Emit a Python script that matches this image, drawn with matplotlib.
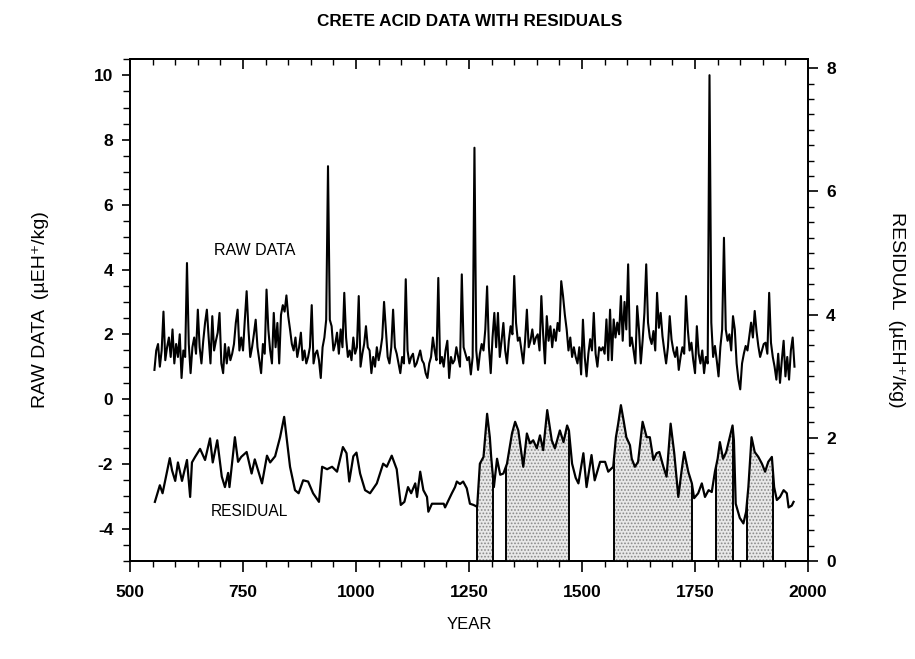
import numpy as np
import matplotlib
matplotlib.use("Agg")
import matplotlib.pyplot as plt
from matplotlib.ticker import MultipleLocator

plt.rcParams['font.family'] = ['Liberation Sans', 'DejaVu Sans']
plt.rcParams['hatch.linewidth'] = 0.8

# ---------------- data ----------------
raw_start = 554
raw_step = 4
raw_values = [
    0.9, 1.5, 1.7, 1.0, 1.5, 2.7, 1.2, 1.6, 1.9, 1.3,          # 554-590
    2.15, 1.1, 1.7, 1.3, 2.0, 0.65, 1.5, 1.3, 4.2, 1.7,        # 594-630
    0.8, 1.6, 1.9, 1.4, 2.76, 1.6, 1.1, 1.8, 2.35, 2.76,       # 634-670
    1.9, 1.1, 2.56, 1.5, 1.8, 2.05, 2.66, 1.1, 0.8, 1.7,       # 674-710
    1.1, 1.6, 1.2, 1.4, 1.7, 2.35, 2.76, 1.5, 1.9, 1.5,        # 714-750
    2.45, 3.33, 2.15, 1.3, 1.6, 2.0, 2.45, 1.6, 1.2, 0.8,      # 754-790
    1.7, 1.4, 3.38, 2.15, 1.5, 1.1, 2.66, 1.6, 2.35, 1.1,      # 794-830
    2.6, 2.9, 2.7, 3.2, 2.56, 2.15, 1.7, 1.5, 1.9, 1.3,        # 834-870
    1.6, 2.05, 1.2, 1.5, 1.1, 1.3, 1.6, 2.9, 1.1, 1.4,         # 874-910
    1.5, 1.2, 0.65, 1.6, 1.9, 2.45, 7.19, 2.45, 2.25, 1.5,     # 914-950
    1.7, 2.05, 1.4, 2.15, 1.6, 3.28, 1.9, 1.3, 1.5, 1.2,       # 954-990
    1.9, 1.4, 1.6, 3.18, 1.0, 1.4, 1.7, 2.25, 1.6, 1.5,        # 994-1030
    0.8, 1.3, 1.0, 1.6, 1.2, 1.5, 1.9, 3.0, 2.15, 1.3,         # 1034-1070
    1.1, 1.6, 2.76, 1.6, 1.4, 1.1, 0.8, 1.3, 1.1, 3.7,         # 1074-1110
    1.5, 1.1, 1.3, 1.4, 1.0, 1.1, 1.3, 1.5, 1.2, 1.1,          # 1114-1150
    0.8, 0.65, 1.1, 1.3, 1.9, 1.5, 1.2, 3.74, 1.1, 1.3,        # 1154-1190
    1.0, 1.5, 1.8, 0.65, 1.3, 1.1, 1.2, 1.6, 1.3, 1.0,         # 1194-1230
    3.85, 1.6, 1.4, 1.2, 1.3, 0.76, 1.3, 7.76, 1.5, 0.9,       # 1234-1270
    1.4, 1.7, 1.5, 2.15, 3.48, 1.6, 0.8, 1.9, 2.66, 1.6,       # 1274-1310
    2.66, 1.3, 1.8, 2.35, 1.5, 1.1, 1.8, 2.25, 2.0, 3.8,       # 1314-1350
    2.35, 1.8, 1.9, 1.5, 1.1, 1.8, 2.76, 1.6, 1.8, 2.15,       # 1354-1390
    1.7, 1.9, 2.0, 1.5, 3.18, 2.0, 1.1, 2.56, 1.8, 2.25,       # 1394-1430
    1.6, 2.15, 1.8, 2.35, 2.1, 3.64, 3.18, 2.6, 2.15, 1.5,     # 1434-1470
    1.9, 1.3, 1.6, 1.3, 1.1, 1.6, 0.76, 2.45, 1.3, 0.7,        # 1474-1510
    1.4, 1.85, 1.5, 2.66, 1.4, 1.0, 1.6, 1.5, 1.6, 1.4,        # 1514-1550
    2.46, 1.2, 2.76, 1.2, 2.46, 1.9, 2.36, 2.0, 3.18, 1.8,     # 1554-1590
    3.0, 2.15, 4.16, 1.64, 1.9, 1.5, 1.1, 2.87, 2.15, 1.1,     # 1594-1630
    1.8, 2.66, 4.16, 2.36, 1.9, 1.7, 2.1, 1.5, 3.28, 2.2,      # 1634-1670
    2.66, 1.94, 1.5, 1.1, 1.6, 2.56, 1.84, 1.5, 1.3, 1.6,      # 1674-1710
    0.9, 1.3, 1.6, 1.4, 3.18, 2.15, 1.5, 1.74, 1.2, 0.8,       # 1714-1750
    2.25, 1.4, 1.1, 1.5, 0.8, 1.3, 1.1, 10.0, 2.36, 1.3,       # 1754-1790
    1.64, 1.2, 0.7, 1.6, 2.15, 4.98, 2.15, 1.8, 2.0, 1.5,      # 1794-1830
    2.56, 2.15, 1.1, 0.6, 0.3, 1.1, 1.4, 1.64, 1.5, 1.94,      # 1834-1870
    2.36, 1.9, 2.72, 2.1, 1.64, 1.3, 1.5, 1.7, 1.74, 1.4,      # 1874-1910
    3.28, 1.74, 1.3, 1.0, 0.6, 1.4, 0.5, 1.2, 1.8, 0.7,        # 1914-1950
    1.3, 0.6, 1.5, 1.9, 1.0,                                   # 1954-1970
]

res_years = [
    555, 566, 572, 588, 593, 600, 606, 615, 626, 633, 637, 644, 655, 666, 677,
    683, 693, 703, 710, 717, 720, 732, 739, 746, 758, 769, 776, 792, 803, 810,
    821, 832, 841, 847, 854, 865, 873, 883, 894, 905, 918, 925, 936, 947, 958,
    971, 979, 985, 994, 1001, 1009, 1020, 1031, 1046, 1060, 1068, 1079, 1090,
    1099, 1107, 1115, 1122, 1131, 1135, 1142, 1149, 1157, 1160, 1168, 1179,
    1187, 1194, 1197, 1212, 1219, 1223, 1230, 1237, 1245, 1252, 1260, 1268,
    1274, 1282, 1290, 1296, 1299, 1305, 1312, 1319, 1326, 1334, 1345, 1352,
    1359, 1370, 1378, 1385, 1392, 1400, 1407, 1414, 1423, 1433, 1440, 1451,
    1459, 1467, 1471, 1478, 1486, 1492, 1503, 1510, 1521, 1528, 1540, 1551,
    1558, 1569, 1575, 1580, 1586, 1592, 1598, 1606, 1610, 1617, 1624, 1634,
    1643, 1650, 1658, 1665, 1671, 1680, 1687, 1696, 1704, 1713, 1720, 1726,
    1735, 1743, 1748, 1757, 1765, 1772, 1780, 1787, 1794, 1800, 1805, 1812,
    1819, 1833, 1836, 1840, 1849, 1857, 1863, 1868, 1875, 1882, 1890, 1898,
    1905, 1912, 1920, 1925, 1931, 1938, 1946, 1953, 1957, 1964, 1968,
]
res_values = [
    0.96, 1.23, 1.10, 1.67, 1.47, 1.30, 1.60, 1.30, 1.64, 1.04, 1.60, 1.69, 1.82, 1.64, 1.99,
    1.60, 1.96, 1.37, 1.20, 1.43, 1.20, 2.01, 1.61, 1.69, 1.77, 1.42, 1.65, 1.26, 1.71, 1.60,
    1.70, 2.01, 2.34, 1.96, 1.53, 1.15, 1.10, 1.31, 1.29, 1.10, 0.96, 1.53, 1.49, 1.53, 1.45,
    1.85, 1.75, 1.29, 1.70, 1.76, 1.42, 1.15, 1.10, 1.26, 1.58, 1.53, 1.71, 1.49,
    0.91, 0.96, 1.20, 1.10, 1.26, 1.04, 1.45, 1.15, 1.04, 0.80, 0.93, 0.93,
    0.93, 0.93, 0.87, 1.10, 1.20, 1.29, 1.25, 1.29, 1.18, 0.93, 0.91, 0.88,
    1.58, 1.69, 2.39, 2.01, 1.69, 1.20, 1.66, 1.40, 1.42, 1.58, 2.07, 2.26,
    2.12, 1.53, 2.07, 1.91, 1.96, 1.83, 2.04, 1.80, 2.45, 1.96, 1.83, 2.12,
    1.93, 2.20, 2.12, 1.58, 1.35, 1.26, 1.75, 1.20, 1.72, 1.31, 1.61, 1.61,
    1.45, 1.53, 2.01, 2.23, 2.53, 2.28, 2.01, 1.88, 1.66, 1.53, 1.61, 2.26,
    2.01, 2.01, 1.64, 1.75, 1.77, 1.53, 1.37, 2.23, 1.75, 1.04, 1.45, 1.77,
    1.45, 1.26, 1.02, 1.10, 1.26, 1.04, 1.15, 1.12, 1.45, 1.66, 1.93, 1.66,
    1.77, 2.20, 1.96, 0.93, 0.70, 0.61, 0.80, 1.20, 2.01, 1.77, 1.69, 1.58,
    1.45, 1.61, 1.69, 1.20, 0.99, 1.04, 1.15, 1.10, 0.87, 0.90, 0.96,
]

# shaded periods (start year, end year)
shade_start = [1268, 1332, 1571, 1796, 1865]
shade_end = [1303, 1471, 1743, 1834, 1923]

x_ticks = [500, 750, 1000, 1250, 1500, 1750, 2000]
left_ticks = [-4, -2, 0, 2, 4, 6, 8, 10]
right_ticks = [0, 2, 4, 6, 8]

# ---------------- figure ----------------
raw_years = raw_start + raw_step * np.arange(len(raw_values))
res_years = np.array(res_years, dtype=float)
res_values = np.array(res_values, dtype=float)

fig = plt.figure(figsize=(9.15, 6.59), dpi=100)
ax = fig.add_axes([0.1421, 0.1487, 0.7410, 0.7618])
ax2 = ax.twinx()

tick_font = dict(fontsize=12.5, fontweight='bold')

ax.plot(raw_years, raw_values, color='black', lw=1.5, zorder=3)
ax.set_xlim(500, 2000)
ax.set_ylim(-5, 10.5)
ax.set_xticks(x_ticks)
ax.set_xticklabels([str(t) for t in x_ticks], **tick_font)
ax.xaxis.set_minor_locator(MultipleLocator(50))
ax.set_yticks(left_ticks)
ax.set_yticklabels([str(t) for t in left_ticks], **tick_font)
ax.yaxis.set_minor_locator(MultipleLocator(0.5))
ax.tick_params(axis='x', which='major', direction='out', length=8, width=1.2, pad=9)
ax.tick_params(axis='x', which='minor', direction='out', length=4, width=1.0)
ax.tick_params(axis='y', which='major', direction='out', length=6, width=1.2, pad=6)
ax.tick_params(axis='y', which='minor', direction='out', length=5, width=1.0)

top = ax.secondary_xaxis('top')
top.set_xticks(x_ticks)
top.set_xticklabels([])
top.xaxis.set_minor_locator(MultipleLocator(50))
top.tick_params(axis='x', which='major', direction='in', length=7, width=1.2)
top.tick_params(axis='x', which='minor', direction='in', length=4, width=1.0)

ax2.set_ylim(0, 8.15)
ax2.set_yticks(right_ticks)
ax2.set_yticklabels([str(t) for t in right_ticks], **tick_font)
ax2.yaxis.set_minor_locator(MultipleLocator(0.25))
ax2.tick_params(axis='y', which='major', direction='out', length=7, width=1.2, pad=6)
ax2.tick_params(axis='y', which='minor', direction='out', length=4, width=1.0)

for a in (ax, ax2):
    for s in a.spines.values():
        s.set_linewidth(1.3)
top.spines['top'].set_linewidth(1.3)

# shaded periods
for s0, s1 in zip(shade_start, shade_end):
    inside = (res_years > s0) & (res_years < s1)
    xs = np.concatenate([[s0], res_years[inside], [s1]])
    ys = np.interp(xs, res_years, res_values)
    ax2.fill_between(xs, 0, ys, facecolor='#e8e8e8', edgecolor='#8a8a8a',
                     hatch='.....', linewidth=0, zorder=1)
    ax2.vlines([s0, s1], 0, [ys[0], ys[-1]], color='black', lw=1.4, zorder=2)

ax2.plot(res_years, res_values, color='black', lw=1.6, zorder=3)

ax.text(775, 4.6, 'RAW DATA', fontsize=11.5, ha='center', va='center')
ax.text(765, -3.47, 'RESIDUAL', fontsize=11.2, ha='center', va='center')

fig.text(0.513, 0.968, 'CRETE ACID DATA WITH RESIDUALS', fontsize=12.3,
         fontweight='bold', ha='center', va='center')
fig.text(0.513, 0.052, 'YEAR', fontsize=12, ha='center', va='center')
fig.text(0.044, 0.53, 'RAW DATA  (\u00b5EH\u207a/kg)', fontsize=14, rotation=90,
         ha='center', va='center', family=['Liberation Sans', 'DejaVu Sans'])
fig.text(0.980, 0.53, 'RESIDUAL  (\u00b5EH\u207a/kg)', fontsize=14, rotation=270,
         ha='center', va='center', family=['Liberation Sans', 'DejaVu Sans'])

fig.savefig('out.png', dpi=100)
